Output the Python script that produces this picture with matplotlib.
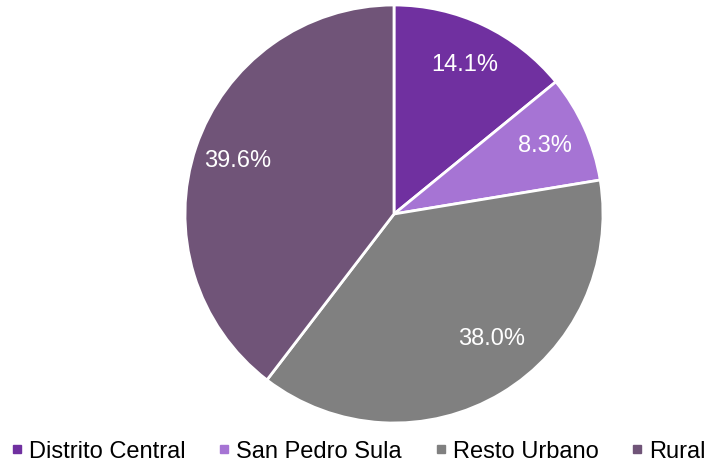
import numpy as np
import matplotlib.pyplot as plt
from matplotlib.lines import Line2D

labels = ['Distrito Central', 'San Pedro Sula', 'Resto Urbano', 'Rural']
values = [14.1, 8.3, 38.0, 39.6]
colors = ['#7030A0', '#A674D4', '#808080', '#705478']

plt.rcParams['font.family'] = ['Liberation Sans', 'DejaVu Sans']

fig = plt.figure(figsize=(7.11, 4.63), dpi=100)
ax = fig.add_axes([185 / 711, 40 / 463, 418 / 711, 418 / 463])

wedges, texts, autotexts = ax.pie(values, colors=colors, startangle=90, counterclock=False,
                                  autopct='%.1f%%', pctdistance=0.79,
                                  wedgeprops=dict(edgecolor='white', linewidth=2),
                                  textprops=dict(color='white', fontsize=17))
# the big grey label sits a bit off the wedge middle in the original
ang = np.deg2rad(90 - 142)
autotexts[2].set_position((0.76 * np.cos(ang), 0.76 * np.sin(ang)))

ax.set_xlim(-1, 1)
ax.set_ylim(-1, 1)
ax.set_aspect('equal')

# small square markers for the legend
handles = [Line2D([0], [0], marker='s', linestyle='none', markersize=6,
                  markerfacecolor=c, markeredgecolor=c) for c in colors]
fig.legend(handles, labels, loc='lower center', ncol=4, frameon=False,
           fontsize=17, bbox_to_anchor=(0.5, -0.045), handletextpad=0.0,
           columnspacing=1.15, handlelength=1.0)

fig.savefig('out.png', dpi=100)
